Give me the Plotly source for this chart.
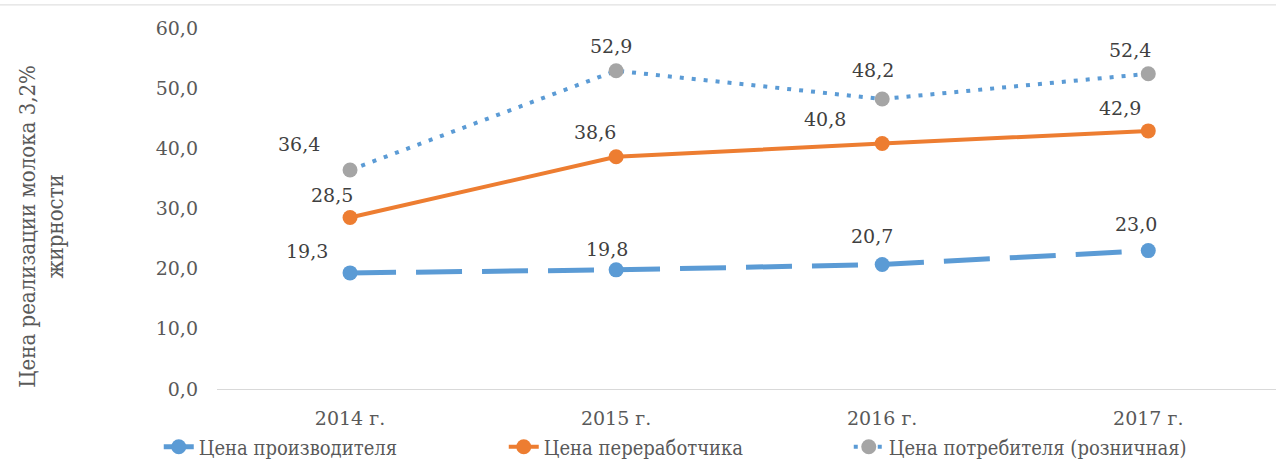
import plotly.graph_objects as go

years = ["2014 г.", "2015 г.", "2016 г.", "2017 г."]
producer = [19.3, 19.8, 20.7, 23.0]
processor = [28.5, 38.6, 40.8, 42.9]
consumer = [36.4, 52.9, 48.2, 52.4]
names = ["Цена производителя", "Цена переработчика", "Цена потребителя (розничная)"]
y_ticks = [0, 10, 20, 30, 40, 50, 60]
y_title = "Цена реализации молока 3,2%<br>жирности"

# label offsets in px (style, not data)
off_producer = [(-43, 22), (-9, 21), (-10, 28), (-12, 27)]
off_processor = [(-18, 23), (-21, 25), (-57, 25), (-28, 23)]
off_consumer = [(-51, 26), (-5, 25), (-9, 29), (-18, 24)]

FONT = "DejaVu Serif"
FONT_C = "DejaVu Serif Condensed, DejaVu Serif"
BLUE = "#5B9BD5"
ORANGE = "#ED7D31"
GRAY = "#A5A5A5"

def fmt(v):
    return f"{v:.1f}".replace(".", ",")

fig = go.Figure()
fig.add_trace(go.Scatter(
    x=years, y=producer, name=names[0], mode="lines+markers",
    line=dict(color=BLUE, width=5, dash="46px,20px"),
    marker=dict(color=BLUE, size=15)))
fig.add_trace(go.Scatter(
    x=years, y=processor, name=names[1], mode="lines+markers",
    line=dict(color=ORANGE, width=4),
    marker=dict(color=ORANGE, size=15)))
fig.add_trace(go.Scatter(
    x=years, y=consumer, name=names[2], mode="lines+markers",
    line=dict(color=BLUE, width=4, dash="4px,8px"),
    marker=dict(color=GRAY, size=15)))

annotations = []
for series, offs in ((producer, off_producer), (processor, off_processor), (consumer, off_consumer)):
    for xv, yv, (dx, dy) in zip(years, series, offs):
        annotations.append(dict(
            x=xv, y=yv, xref="x", yref="y", text=fmt(yv), showarrow=False,
            xshift=dx, yshift=dy, font=dict(family=FONT, size=19, color="#404040")))

annotations.append(dict(
    x=-0.166, y=0.45, xref="paper", yref="paper", text=y_title, showarrow=False,
    textangle=-90, xanchor="center", yanchor="middle",
    font=dict(family=FONT_C, size=22, color="#595959")))

fig.update_layout(
    width=1276, height=459,
    margin=dict(l=217, r=0, t=28, b=70, autoexpand=False),
    paper_bgcolor="white", plot_bgcolor="white",
    showlegend=True,
    legend=dict(orientation="h", x=-0.055, xanchor="left", y=-0.16, yanchor="middle",
                font=dict(family=FONT_C, size=20, color="#595959"),
                entrywidth=300, bgcolor="rgba(0,0,0,0)"),
    annotations=annotations,
    shapes=[dict(type="line", xref="paper", yref="paper", x0=-0.21, x1=1,
                 y0=1.064, y1=1.064, line=dict(color="#D9D9D9", width=1))],
)
fig.update_xaxes(range=[-0.5, 3.48], showgrid=False, showline=True, linecolor="#D9D9D9",
                 linewidth=1, zeroline=False, ticks="", ticklabelstandoff=12,
                 tickfont=dict(family=FONT, size=19, color="#595959"))
fig.update_yaxes(range=[0, 60], tickvals=y_ticks,
                 ticktext=[fmt(v) for v in y_ticks], showgrid=False, zeroline=False,
                 showline=False, ticks="", ticklabelstandoff=18,
                 tickfont=dict(family=FONT, size=19, color="#595959"))

fig.write_html("out.html", post_script="document.body.style.margin='0';",
               config={"displayModeBar": False})
